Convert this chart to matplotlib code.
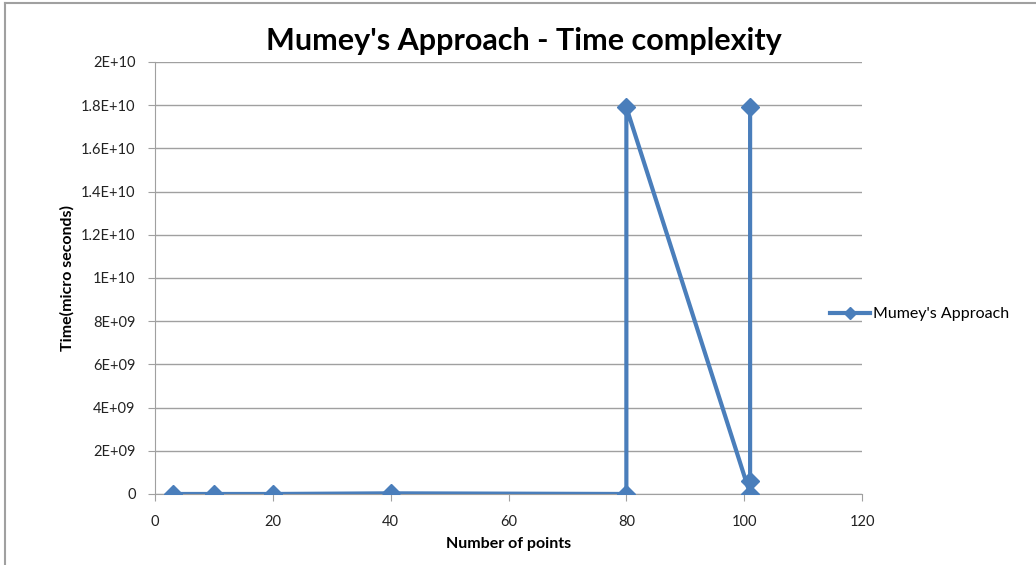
import matplotlib.pyplot as plt
from matplotlib.lines import Line2D

plt.rcParams['font.family'] = ['Lato', 'DejaVu Sans']

# data
points = [3, 10, 20, 40, 80, 80, 101, 101, 101]
times = [0, 0, 0, 0.003e10, 0, 1.79e10, 0, 0.06e10, 1.79e10]
yticks = [0, 2e9, 4e9, 6e9, 8e9, 1e10, 1.2e10, 1.4e10, 1.6e10, 1.8e10, 2e10]
ytick_labels = ['0', '2E+09', '4E+09', '6E+09', '8E+09', '1E+10',
                '1.2E+10', '1.4E+10', '1.6E+10', '1.8E+10', '2E+10']
xticks = [0, 20, 40, 60, 80, 100, 120]

blue = '#4A7EBB'
grid = '#A0A0A0'

fig = plt.figure(figsize=(10.36, 5.65), dpi=100)
ax = fig.add_axes([0.1496, 0.1257, 0.6825, 0.7646])

ax.plot(points, times, color=blue, linewidth=3, marker='D', markersize=9,
        label="Mumey's Approach", zorder=3)

ax.set_xlim(0, 120)
ax.set_ylim(0, 2e10)
ax.set_xticks(xticks)
ax.set_yticks(yticks)
ax.set_yticklabels(ytick_labels)
ax.tick_params(labelsize=10.5, colors=grid, labelcolor='#222222', length=5,
               direction='out')
ax.tick_params(axis='x', pad=10)
ax.tick_params(axis='y', pad=9)
ax.grid(axis='y', color=grid, linewidth=1)
ax.set_axisbelow(True)

for s in ['top', 'right']:
    ax.spines[s].set_visible(False)
ax.spines['left'].set_color(grid)
ax.spines['bottom'].set_color(grid)

ax.set_xlabel('Number of points', fontsize=11.5, fontweight='bold', labelpad=6)
ax.set_ylabel('Time(micro seconds)', fontsize=11.5, fontweight='bold', labelpad=5)

fig.text(0.506, 0.928, "Mumey's Approach - Time complexity", ha='center',
         va='center', fontsize=22, fontweight='bold')

fig.legend(loc='center left', bbox_to_anchor=(0.787, 0.444), frameon=False,
           fontsize=11.5, handlelength=2.5, handletextpad=0.2, markerscale=0.7)

# outer frame of the chart area
fig.add_artist(Line2D([0.005, 1.0], [0.995, 0.995], color='#A0A0A0', linewidth=1.5))
fig.add_artist(Line2D([0.005, 0.005], [0.0, 0.995], color='#A0A0A0', linewidth=1.5))

fig.savefig('out.png', dpi=100)
